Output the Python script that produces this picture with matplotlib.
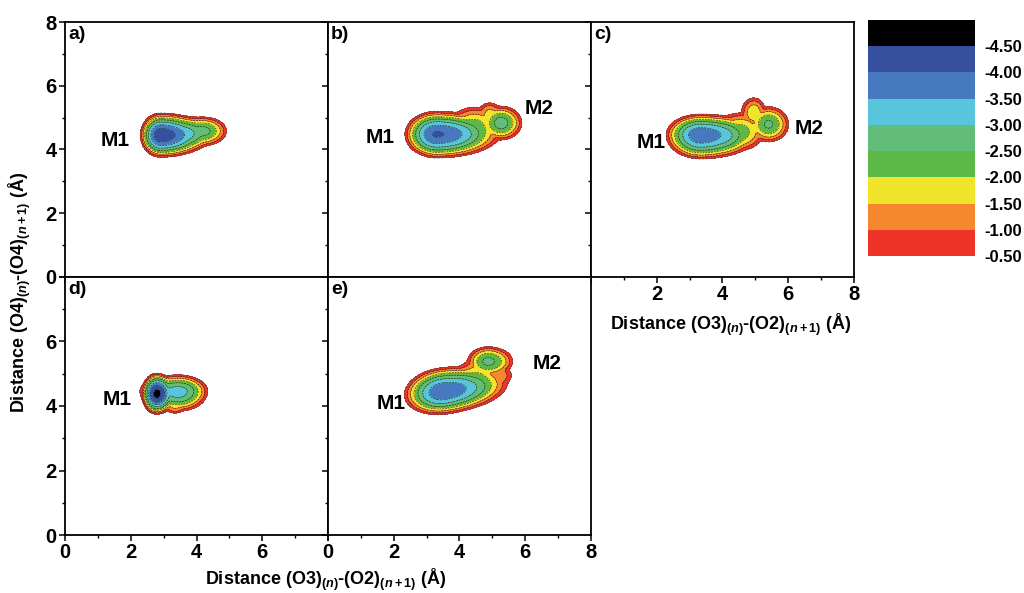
import numpy as np
import matplotlib
matplotlib.use('Agg')
import matplotlib.pyplot as plt
from matplotlib.colors import ListedColormap, BoundaryNorm

plt.rcParams['font.family'] = ['Liberation Sans', 'DejaVu Sans']
plt.rcParams['font.weight'] = 'bold'
plt.rcParams['mathtext.fontset'] = 'custom'
plt.rcParams['mathtext.rm'] = 'Liberation Sans:bold'
plt.rcParams['mathtext.it'] = 'Liberation Sans:italic:bold'
plt.rcParams['mathtext.bf'] = 'Liberation Sans:bold'

# ---- data ----
levels = [-5.0, -4.5, -4.0, -3.5, -3.0, -2.5, -2.0, -1.5, -1.0, -0.5]
level_colors = ['#000000', '#36509f', '#4679bf', '#58c5dc', '#62bc7a',
                '#5cb947', '#f1e52b', '#f5882e', '#ee3428']
cbar_ticks = [-4.5, -4.0, -3.5, -3.0, -2.5, -2.0, -1.5, -1.0, -0.5]
cbar_labels = ['-4.50', '-4.00', '-3.50', '-3.00', '-2.50', '-2.00', '-1.50', '-1.00', '-0.50']

# free-energy basins:
# (centre x, centre y, depth, sigma left, sigma right, sigma down, sigma up, tilt deg)
basins_a = [(2.90, 4.45, 4.35, 0.22, 0.54, 0.25, 0.25, 0),
            (3.60, 4.50, 3.30, 0.50, 0.40, 0.23, 0.23, 0),
            (4.20, 4.58, 2.70, 0.50, 0.34, 0.22, 0.21, 0)]
basins_b = [(3.30, 4.48, 4.05, 0.36, 0.72, 0.28, 0.27, 0),
            (3.95, 4.50, 3.20, 0.45, 0.38, 0.25, 0.25, 0),
            (4.45, 4.68, 2.30, 0.40, 0.40, 0.32, 0.34, 0),
            (5.26, 4.83, 2.75, 0.28, 0.30, 0.25, 0.25, 0),
            (4.92, 5.12, 1.70, 0.22, 0.22, 0.20, 0.22, 0)]
basins_c = [(3.33, 4.46, 3.90, 0.40, 0.65, 0.29, 0.25, 0),
            (3.95, 4.45, 3.25, 0.45, 0.42, 0.26, 0.26, 0),
            (4.55, 4.55, 2.25, 0.40, 0.38, 0.30, 0.32, 0),
            (5.40, 4.79, 2.60, 0.28, 0.30, 0.27, 0.27, 0),
            (4.95, 5.15, 1.90, 0.22, 0.22, 0.25, 0.28, 0),
            (4.10, 4.05, 1.40, 0.28, 0.28, 0.16, 0.16, 0)]
basins_d = [(2.79, 4.38, 4.70, 0.16, 0.20, 0.22, 0.22, 0),
            (3.45, 4.45, 3.25, 0.50, 0.38, 0.26, 0.22, 0),
            (3.35, 3.95, 1.50, 0.20, 0.20, 0.12, 0.12, 0)]
basins_e = [(3.50, 4.45, 3.95, 0.45, 0.75, 0.27, 0.28, 8),
            (4.55, 4.78, 2.20, 0.38, 0.35, 0.38, 0.36, 0),
            (4.87, 5.38, 2.65, 0.30, 0.36, 0.22, 0.22, 0),
            (5.20, 4.95, 1.40, 0.28, 0.28, 0.22, 0.20, 0)]

panel_names = ['a)', 'b)', 'c)', 'd)', 'e)']
state_labels = {
    'a)': [('M1', 1.52, 4.29)],
    'b)': [('M1', 1.58, 4.39), ('M2', 6.41, 5.30)],
    'c)': [('M1', 1.82, 4.23), ('M2', 6.63, 4.67)],
    'd)': [('M1', 1.58, 4.19)],
    'e)': [('M1', 1.91, 4.09), ('M2', 6.66, 5.33)],
}
major_ticks = [0, 2, 4, 6, 8]
minor_ticks = [1, 3, 5, 7]


def surface(basins, X, Y, T=0.2):
    Fs = []
    for cx, cy, d, sxl, sxr, syd, syu, ang in basins:
        t = np.deg2rad(ang)
        dx, dy = X - cx, Y - cy
        u = dx * np.cos(t) + dy * np.sin(t)
        v = -dx * np.sin(t) + dy * np.cos(t)
        su = np.where(u < 0, sxl, sxr)
        sv = np.where(v < 0, syd, syu)
        Fs.append(-d + 0.5 * ((u / su) ** 2 + (v / sv) ** 2))
    Fs = np.array(Fs)
    m = Fs.min(axis=0)
    return m - T * np.log(np.exp(-(Fs - m) / T).sum(axis=0))


xg = np.linspace(0, 8, 500)
yg = np.linspace(0, 8, 500)
X, Y = np.meshgrid(xg, yg)

cmap = ListedColormap(level_colors)
norm = BoundaryNorm(levels, cmap.N)

fig = plt.figure(figsize=(10.24, 5.93), dpi=100)
W = 0.2568
lefts = [0.0635, 0.0635 + W, 0.0635 + 2 * W]
top_b, top_h = 0.5329, 0.4300
bot_b, bot_h = 0.0978, 0.4351

rects = [[lefts[0], top_b, W, top_h], [lefts[1], top_b, W, top_h], [lefts[2], top_b, W, top_h],
         [lefts[0], bot_b, W, bot_h], [lefts[1], bot_b, W, bot_h]]
all_basins = [basins_a, basins_b, basins_c, basins_d, basins_e]

xlabel_show = [[], [], [2, 4, 6, 8], [0, 2, 4, 6], [0, 2, 4, 6, 8]]
ylabel_show = [[0, 2, 4, 6, 8], [], [], [0, 2, 4, 6], []]

for i, (rect, basins, name) in enumerate(zip(rects, all_basins, panel_names)):
    ax = fig.add_axes(rect)
    F = surface(basins, X, Y)
    ax.contourf(X, Y, F, levels=levels, cmap=cmap, norm=norm)
    ax.contour(X, Y, F, levels=levels[1:-1], colors='#222222', linewidths=0.45,
               linestyles=[(0, (3, 1.5))])
    ax.contour(X, Y, F, levels=[-0.5], colors='#444444', linewidths=0.5)
    ax.set_xlim(0, 8)
    ax.set_ylim(0, 8)
    ax.set_xticks(major_ticks)
    ax.set_yticks(major_ticks)
    ax.set_xticks(minor_ticks, minor=True)
    ax.set_yticks(minor_ticks, minor=True)
    ax.set_xticklabels([str(t) if t in xlabel_show[i] else '' for t in major_ticks],
                       fontsize=14.5, fontweight='bold')
    ax.set_yticklabels([str(t) if t in ylabel_show[i] else '' for t in major_ticks],
                       fontsize=14.5, fontweight='bold')
    ax.tick_params(which='major', direction='out', length=4, width=1.1, pad=2)
    ax.tick_params(which='minor', direction='out', length=2.5, width=1.0)
    for sp in ax.spines.values():
        sp.set_linewidth(1.3)
        sp.set_zorder(5)
    ax.text(0.012, 0.985, name, transform=ax.transAxes, ha='left', va='top',
            fontsize=14, fontweight='bold')
    for lab, lx, ly in state_labels[name]:
        ax.text(lx, ly, lab, ha='center', va='center', fontsize=15, fontweight='bold')

# colour bar
cax = fig.add_axes([868 / 1024, 1 - 256 / 593, 107 / 1024, 236 / 593])
for k in range(len(level_colors)):
    cax.axhspan(levels[k], levels[k + 1], color=level_colors[k], lw=0)
cax.set_ylim(-0.5, -5.0)
cax.set_xlim(0, 1)
cax.set_xticks([])
cax.yaxis.tick_right()
cax.set_yticks(cbar_ticks)
cax.set_yticklabels(cbar_labels, fontsize=12, fontweight='bold')
cax.tick_params(axis='y', length=0, pad=7)
for sp in cax.spines.values():
    sp.set_visible(False)

ylab = r'Distance (O4)$_{(\mathit{n})}$-(O4)$_{(\mathit{n}+1)}$ (Å)'
xlab = r'Distance (O3)$_{(\mathit{n})}$-(O2)$_{(\mathit{n}+1)}$ (Å)'
fig.text(0.019, 1 - 292 / 593, ylab, rotation=90, ha='center', va='center',
         fontsize=13, fontweight='bold')
fig.text(326 / 1024, 1 - 580 / 593, xlab, ha='center', va='center',
         fontsize=13, fontweight='bold')
fig.text(731 / 1024, 1 - 325 / 593, xlab, ha='center', va='center',
         fontsize=13, fontweight='bold')

fig.savefig('out.png', dpi=100)
